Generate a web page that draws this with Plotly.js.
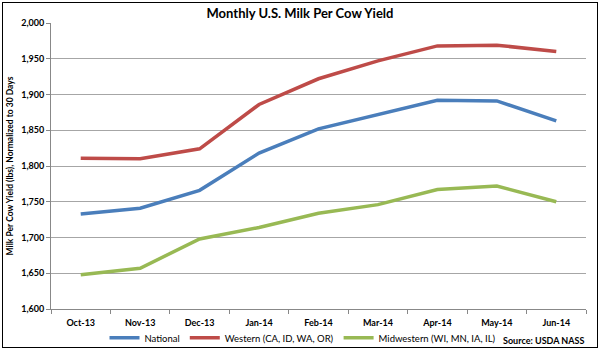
<!DOCTYPE html>
<html>
<head>
<meta charset="utf-8">
<script src="https://cdn.plot.ly/plotly-3.0.1.min.js"></script>
<style>
html,body{margin:0;padding:0;background:#fff;}
#wrap{position:relative;width:600px;height:351px;}
#chart{width:600px;height:351px;}
#frame{position:absolute;left:2px;top:2px;width:594px;height:344px;border:1px solid #000;pointer-events:none;}
</style>
</head>
<body>
<div id="wrap"><div id="chart"></div><div id="frame"></div></div>
<script>
const categories = ["Oct-13","Nov-13","Dec-13","Jan-14","Feb-14","Mar-14","Apr-14","May-14","Jun-14"];
const national = [1733,1741,1766,1818,1852,1872,1892,1891,1863];
const western = [1811,1810,1824,1886,1922,1947,1968,1969,1960];
const midwestern = [1648,1657,1698,1714,1734,1746,1767,1772,1750];
const yTicks = [1600,1650,1700,1750,1800,1850,1900,1950,2000];
const yTickText = ["1,600","1,650","1,700","1,750","1,800","1,850","1,900","1,950","2,000"];

const FONT = "Lato, 'Open Sans', sans-serif";
const idx = categories.map((c,i)=>i);
function tr(name, y, color){
  return {x: idx, y: y, name: name, type:'scatter', mode:'lines',
    line:{color: color, width:3.5}, hoverinfo:'skip'};
}
const data = [
  tr("National", national, "#4a7ebb"),
  tr("Western (CA, ID, WA, OR)", western, "#be4b48"),
  tr("Midwestern (WI, MN, IA, IL)", midwestern, "#98b954")
];
const boundaries = categories.map((c,i)=>i-0.5).concat([categories.length-0.5]);
const layout = {
  width:600, height:351,
  margin:{l:51, r:14, t:23, b:42, autoexpand:false},
  paper_bgcolor:'#fff', plot_bgcolor:'#fff',
  font:{family:FONT, color:'#000'},
  showlegend:true,
  title:{text:"<b>Monthly U.S. Milk Per Cow Yield</b>", font:{size:13, family:FONT, color:'#000'}, x:0.5, xanchor:'center', y:0.963, yanchor:'middle'},
  xaxis:{
    range:[-0.5, categories.length-0.5],
    tickmode:'array', tickvals: idx, ticktext: categories.map(c=>"<b>"+c+"</b>"),
    tickfont:{size:9, family:FONT, color:'#000'},
    ticks:'', ticklabelstandoff:5, showgrid:false, zeroline:false,
    showline:true, linecolor:'#888', linewidth:1
  },
  xaxis2:{
    overlaying:'x', range:[-0.5, categories.length-0.5],
    tickmode:'array', tickvals: boundaries, showticklabels:false,
    ticks:'outside', ticklen:4, tickcolor:'#888', showgrid:false, zeroline:false, showline:false
  },
  yaxis:{
    range:[1600,2000], tickmode:'array', tickvals:yTicks, ticktext:yTickText.map(t=>"<b>"+t+"</b>"),
    tickfont:{size:9, family:FONT, color:'#000'},
    showgrid:true, gridcolor:'#a6a6a6', gridwidth:1,
    showline:true, linecolor:'#888', linewidth:1, zeroline:false,
    ticks:'outside', ticklen:4, tickcolor:'#888',
    title:{text:"<b>Milk Per Cow Yield (lbs), Normalized to 30 Days</b>", font:{size:8.5, family:FONT, color:'#000'}, standoff:6}
  },
  legend:{orientation:'h', x:0.1, xanchor:'left', y:-0.05, yanchor:'top',
    font:{size:9.5, family:FONT, color:'#000'}, bgcolor:'rgba(0,0,0,0)', tracegroupgap:0},
  annotations:[{text:"<b>Source: USDA NASS</b>", xref:'paper', yref:'paper', x:1.0, y:-0.085, xanchor:'right', yanchor:'top', showarrow:false, font:{size:9, family:FONT, color:'#000'}}]
};
data.push({x:[0], y:[1600], xaxis:'x2', yaxis:'y', type:'scatter', mode:'none', showlegend:false, hoverinfo:'skip'});
Plotly.newPlot('chart', data, layout, {displayModeBar:false, staticPlot:true});
</script>
</body>
</html>
